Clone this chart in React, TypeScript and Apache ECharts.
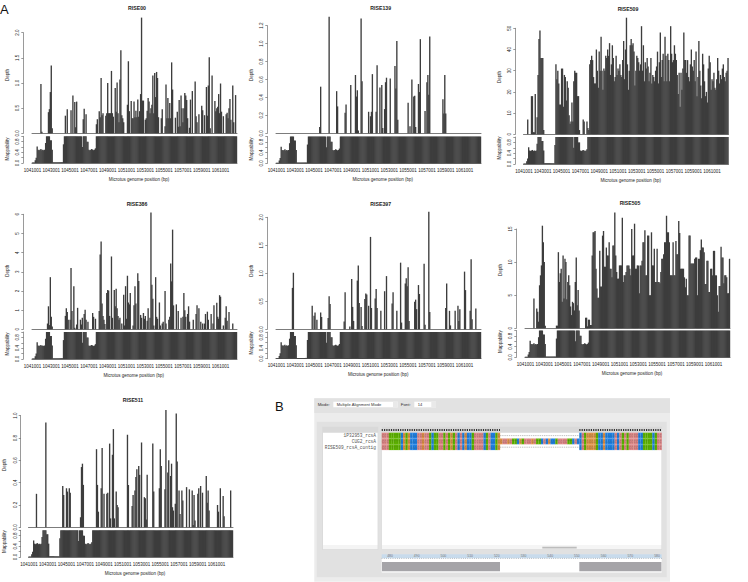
import React, { useEffect, useRef } from "react";
import * as echarts from "echarts";

const BIN_COUNT = 218;
const binLabels = Array.from({ length: BIN_COUNT }, (_, i) => String(1041001 + i * 100));

const mappability = [
  0.02, 0.02, 0.02, 0.1, 0.2, 0.62, 0.5, 0.48, 0.5, 0.52, 0.48, 0.5, 0.48, 0.5, 0.75, 1, 1, 1, 1, 0.85,
  0.85, 0.5, 0.03, 0.03, 0.03, 0.03, 0.03, 0.03, 0.03, 0.03, 0.03, 0.03, 0.03, 0.7, 1, 1, 1, 1, 1, 1,
  1, 1, 1, 1, 1, 1, 1, 1, 1, 1, 1, 1, 1, 0.6, 1, 1, 1, 1, 0.8, 0.8,
  0.5, 0.48, 0.5, 0.52, 0.5, 0.48, 0.5, 0.55, 1, 1, 1, 1, 1, 1, 1, 1, 1, 1, 1, 1,
  ...Array(138).fill(1),
];

const rise00Peaks = [
  [9,.98],[10,.03],[17,.42],[18,.48],[19,.82],[20,1.35],[21,.1],[35,.35],[37,.48],[41,.46],[43,.75],[45,.62],[46,.12],[47,.63],
  [54,.28],[55,.49],[57,.38],[68,.18],[69,.28],[71,.44],[72,.32],[73,1.1],[74,.36],[75,.4],[78,.35],[79,.4],[80,1.0],[81,.4],[82,.4],
  [83,.4],[84,1.24],[85,.4],[86,.33],[88,.9],[89,.43],[90,1.01],[91,.4],[92,.22],[93,1.07],[94,1.65],[95,.36],[96,.3],[97,.22],
  [101,.57],[102,1.43],[103,.44],[105,.64],[106,.3],[107,.3],[108,.63],[109,.32],[110,.45],[111,.32],[112,.67],[113,.33],[114,.44],[115,.78],[116,2.3],
  [117,.65],[118,.65],[120,.27],[121,.3],[122,.45],[123,.7],[124,.63],[125,.4],[126,.5],[127,.57],[128,1.15],[129,.4],[130,1.2],[131,.72],[132,1.22],[133,1.1],[134,.32],
  [137,.3],[138,.48],[141,.14],[142,.97],[143,.3],[144,.7],[145,.3],[146,.6],[147,.3],[148,1.41],[149,.87],[152,.31],[154,.43],[155,.13],[156,.66],[157,.14],
  [158,.75],[159,.5],[160,.22],[161,.5],[162,.8],[163,.75],[164,.66],[165,.3],[167,.11],[168,.67],[170,.84],[173,1.03],[174,.34],[175,.22],[177,.38],
  [180,.55],[181,.46],[183,.36],[185,.92],[186,.35],[187,.95],[188,1.51],[189,.1],[191,1.15],[194,.64],[195,.44],[196,.5],[197,.53],[198,.78],[199,.4],[200,.99],[201,.43],[203,.34],
  [206,.38],[207,.41],[208,.3],[209,.5],[210,.68],[211,.27],[213,.95],[214,.22],[216,.76],
];

const rise139Peaks = [
  [46,.07],[47,.52],[56,1.3],[64,.47],[65,.3],[73,.23],[74,.32],[79,.54],[84,.65],[85,.41],[86,.48],[87,.03],[90,1.28],[91,.58],
  [98,.24],[100,.19],[101,.24],[102,.66],[106,.24],[107,.76],[110,.51],[112,.54],[113,.06],[115,.27],[116,.57],[117,.62],[121,.61],
  [126,.75],[127,.5],[128,1.03],[129,.15],[140,.34],[142,.08],[144,.6],[146,.41],[147,.42],[148,.07],[151,.55],[152,.46],[153,1.05],
  [158,.25],[160,.57],[161,.65],[162,.43],[163,1.08],[177,.38],[178,.22],[179,.65],[180,.22],
];

const rise509Depth = [
  0,0,0,0,7,0,0,0,18,18,1,1,19,0,8,28,45,49,36,36,
  36,2,0,0,0,0,0,0,0,0,0,0,0,0,33,26,30,24,14,14,
  31,31,13,28,27,16,25,22,9,5,6,15,6,25,30,29,29,18,18,2,
  0,0,0,7,6,0,0,6,3,2,33,35,37,35,27,24,24,40,30,22,
  39,30,46,30,21,31,30,37,36,40,37,43,28,33,42,36,25,27,37,28,
  31,30,33,28,27,35,44,26,40,55,33,21,30,42,45,42,43,39,23,30,
  37,36,34,30,33,51,30,42,25,34,31,36,32,25,29,36,24,28,27,25,
  30,32,39,24,34,48,27,35,38,25,46,37,25,38,35,25,51,38,34,35,
  42,38,35,28,19,29,13,29,21,31,48,35,35,29,35,27,25,33,40,32,
  30,35,25,39,18,27,44,30,23,17,38,33,25,18,20,15,31,37,34,21,
  26,25,29,22,21,26,36,30,24,28,26,31,33,27,25,29,30,36,
];

const rise386Peaks = [
  [16,.3],[17,1.2],[18,.22],[19,2.72],[20,.65],[21,.15],[35,.7],[36,1.1],[37,.9],[38,.5],[40,.5],[41,3.2],[42,.95],[44,2.25],[45,.08],[47,.25],[48,1.12],
  [51,.5],[52,.25],[53,.6],[55,.8],[56,1.02],[57,.5],[59,.4],[64,.85],[65,.65],[67,.55],[71,.95],[72,3.9],[73,4.58],[74,1.35],[75,.7],[76,.5],[77,.28],
  [79,1.9],[80,2.05],[81,2.02],[82,.7],[84,3.8],[85,.6],[87,2.05],[88,1.2],[89,2.12],[90,1.1],[91,.7],[92,.5],[93,.6],[95,.3],[97,1.8],[98,.2],[99,2.25],
  [100,.55],[101,2.8],[102,1.4],[103,1.3],[104,1.9],[107,.2],[108,1.25],[109,2.25],[110,1.35],[112,2.93],[113,2.52],[115,.75],[116,.6],[118,.85],[119,.55],[120,.7],
  [122,.45],[123,1.1],[125,.6],[126,6.1],[127,2.32],[128,1.6],[129,.2],[131,2.72],[132,.65],[133,.55],[135,1.4],[136,.2],[138,.3],[139,.4],[141,2.0],[142,.3],
  [145,.5],[146,.65],[147,3.43],[148,2.5],[149,5.2],[150,1.25],[153,1.3],[155,.95],[158,.6],[160,.65],[161,1.9],[162,1.0],[163,.65],[165,.8],[166,1.2],[167,.4],
  [171,.5],[174,.8],[175,1.25],[177,1.1],[179,.4],[181,.3],[183,.3],[184,.8],[186,.92],[187,.5],[190,.8],[192,.3],[193,1.25],[196,1.38],[197,.65],[198,.55],
  [199,1.78],[200,1.7],[203,.2],[205,.6],[206,1.2],[207,.45],[209,.9],[213,.3],
];

const rise397Peaks = [
  [17,.74],[18,1.01],[38,.42],[40,.24],[41,.3],[43,.17],[47,.3],[48,.22],[55,.2],[56,.59],[57,.45],[73,.66],[72,.14],[78,.05],[80,.9],[81,.4],[82,.15],
  [86,.87],[87,1.14],[88,.47],[90,.4],[91,.06],[94,.54],[95,.64],[96,.62],[98,.42],[100,1.65],[101,.38],[105,.55],[106,.72],[107,.38],[111,.33],[115,.68],[117,.95],
  [123,.46],[124,.66],[128,.33],[132,1.19],[133,.12],[137,.82],[138,.91],[139,.77],[140,1.11],[141,.15],[147,.49],[148,.53],[149,.36],[151,.79],[152,.63],
  [157,1.17],[158,.08],[162,2.1],[163,.31],[180,.38],[181,.82],[184,.33],[185,.07],[190,.33],[193,.42],[194,.15],[195,.36],[200,1.03],[201,.7],[206,.33],[207,1.25],[208,.18],[212,.37],
];

const rise505Depth = [
  0,0,0,0,0,0,0,0,0,4.5,0,0,3,2.5,1,6.5,8,9.5,15.5,13,
  10,.4,0,0,0,0,0,0,0,0,0,0,0,.4,.4,11.5,7,8.3,9,4,
  11,4.5,10.5,10,4.4,7,8,6.5,3.3,2,4,3.8,2.7,7,10.7,3.5,5.8,2.7,0,0,
  0,0,0,0,1.6,1.6,.3,1.3,1.3,.5,.5,11,14.5,14.5,14.7,9,6,4.6,4.6,11.7,
  6.3,6.3,14,14.7,9.3,9.3,12.2,11,11,13,9,9,7.7,12.5,12.5,17.5,11,8.5,7.5,7.5,
  9.5,9.5,9.5,16.7,7,8,8,8.5,9.5,9.5,9.5,9,8,15,11,11,15.8,9,9,9.5,
  9.5,5.3,9.5,9.5,10.2,13,13,14.8,8,8,14,14,5,5,14.5,9.5,9.5,12,7,7,
  12,7,7,6.8,8.5,10.5,10.5,11.2,13,13,17,14.5,14.5,13,8,8,8,13,8,8,
  13.2,11.2,11.2,16.2,14.4,9,9,9,9,7.7,6.2,7.5,5,5,14,14,9.8,9.8,9.8,9.8,
  10.5,10.7,10.7,5,10.5,10.5,11.8,13.4,12.2,12.2,11.5,6.7,6.7,10.2,10.2,5.5,5.5,9,9,8,
  11.7,11.7,8,8,5,2.5,6.4,6.4,12.3,10.7,10.7,6.8,8,8,7.7,5.3,5.3,10.5,
];

const rise511Peaks = [
  [8,.3],[18,.94],[36,.37],[37,.29],[40,.35],[41,.32],[43,.35],[44,.31],[55,.09],[56,.54],[57,.57],[58,.38],[72,.7],[73,.38],[74,.14],[77,.35],[78,.71],[80,.3],
  [83,.3],[84,.31],[86,.75],[87,.08],[89,.65],[90,.88],[91,.08],[93,.32],[94,.2],[95,.18],[105,.83],[106,.38],[110,.19],[111,.29],[113,.33],[114,.45],[115,.52],[117,.55],
  [118,.47],[120,.76],[123,.27],[124,.26],[125,.07],[126,.47],[132,.75],[133,.32],[139,.35],[140,.7],[141,.55],[145,.34],[146,1.05],[148,.49],[149,.6],[151,.46],[152,.57],
  [153,.18],[154,.15],[156,.21],[157,1.02],[158,.59],[160,.33],[161,.12],[163,.33],[164,.24],[168,.36],[171,.34],[174,.33],[175,.02],[176,.29],[177,.06],[181,.35],[180,.3],
  [183,.37],[185,.31],[189,.46],[190,.22],[191,.33],[192,.15],[201,.2],[202,.14],[204,.35],[207,.28],[208,.1],[215,.33],
];

const fromPeaks = (peaks: number[][]) => {
  const out: (number | null)[] = Array(BIN_COUNT).fill(null);
  peaks.forEach(([b, v]) => { out[b] = v; });
  return out;
};
const dense = (vals: number[]) => vals.map((v) => (v > 0 ? v : null));

const panelNames = ["RISE00", "RISE139", "RISE509", "RISE386", "RISE397", "RISE505", "RISE511"];
const depthData = [
  fromPeaks(rise00Peaks), fromPeaks(rise139Peaks), dense(rise509Depth), fromPeaks(rise386Peaks),
  fromPeaks(rise397Peaks), dense(rise505Depth), fromPeaks(rise511Peaks),
];
const depthAxisMax = [2, 1.2, 50, 6, 2, 15, 1];
const depthAxisStep = [0.5, 0.2, 10, 1, 0.5, 5, 0.2];
const depthAxisDigits = [1, 1, 0, 0, 1, 0, 1];

const layout = [
  { l: 32, w: 205, dt: 32.7, d0: 133.3, mt: 136.3, m0: 163, off: 8.7, tx: 137, ty: 8, nx: 139, ny: 179, yn: 7, dn: 75, mn: 149 },
  { l: 276, w: 205, dt: 25.7, d0: 133.3, mt: 136.5, m0: 163.3, off: 8.7, tx: 380.7, ty: 8, nx: 382.7, ny: 179.3, yn: 251, dn: 75, mn: 149 },
  { l: 523.5, w: 205, dt: 28.3, d0: 134.3, mt: 137, m0: 164, off: 8.2, tx: 628, ty: 9, nx: 630.7, ny: 180, yn: 499, dn: 77, mn: 148 },
  { l: 32, w: 205, dt: 214.3, d0: 329.3, mt: 332, m0: 359, off: 8.7, tx: 137, ty: 203.7, nx: 133.7, ny: 375.3, yn: 7, dn: 270.7, mn: 344 },
  { l: 276, w: 205, dt: 217.3, d0: 329.3, mt: 332, m0: 358.7, off: 8.7, tx: 380.7, ty: 203.7, nx: 378.3, ny: 374.7, yn: 251, dn: 270.7, mn: 343 },
  { l: 525, w: 205, dt: 229, d0: 328.3, mt: 330.5, m0: 357.3, off: 8.7, tx: 630, ty: 202.7, nx: 632, ny: 373.7, yn: 500, dn: 270, mn: 341.7 },
  { l: 28.5, w: 204.5, dt: 415.7, d0: 527.3, mt: 530.3, m0: 557, off: 7.8, tx: 133, ty: 399.7, nx: 135, ny: 573.3, yn: 4.3, dn: 465, mn: 541.7 },
];

const seqStart = "CCCTTTTTAGTGAAACCGCCTATTCCTCTGTCACAGAATCCCCATCAATG";
const seqMiddle = "GCCGCTTAGTCCCGCTTACAGAATCCCCTTACA";
const seqEnd = "ACTGGGGTAAGAAAACACTCTCCCCAATTTTATCC";
const rowNames = ["1P32953_rcsA", "CUG2_rcsA", "RISE509_rcsA_contig"];
const rulerLabels = ["480", "490", "500", "510", "520", "530", "540", "550", "560", "570", "580"];
const baseColor: Record<string, string> = { A: "#1f7fe0", C: "#d98282", G: "#dc8f45", T: "#5cb000" };

const SANS = "Liberation Sans";
const INK = "#3d3d3d";

function buildPanelB() {
  const g: any[] = [];
  const rect = (x: number, y: number, x2: number, y2: number, fill: string) =>
    g.push({ type: "rect", shape: { x, y, width: x2 - x, height: y2 - y }, style: { fill } });
  const text = (x: number, y: number, t: string, size: number, o: any = {}) =>
    g.push({ type: "text", x, y, style: { text: t, fontSize: size, fontFamily: SANS, fill: "#333", textVerticalAlign: "middle", ...o } });

  rect(314.3, 398.3, 670, 581.7, "#ececec");
  rect(314.3, 398.3, 670, 413, "#e2e2e2");
  rect(316.7, 421.7, 666.7, 577.3, "#e1e1e1");
  rect(322.3, 426.7, 378.3, 550, "#d9d9d9");
  rect(323, 432.7, 377.6, 545, "#ffffff");
  rect(323, 545, 377.6, 549.3, "#f4f4f4");
  rect(381.7, 426.7, 661.7, 550, "#d9d9d9");
  rect(382, 432.7, 661.4, 545, "#ffffff");
  rect(382, 545, 661.4, 549.3, "#f5f5f5");
  rect(542.3, 546.8, 576.7, 548.6, "#bdbdbd");

  text(317.7, 404.5, "Mode:", 4.4);
  rect(333.3, 401.7, 397.7, 407.3, "#ffffff");
  rect(393, 401.7, 397.7, 407.3, "#e9e9e9");
  text(336.7, 404.5, "Multiple Alignment Mode", 4.1);
  text(400.7, 404.5, "Font:", 4.4);
  rect(414.3, 401.7, 436, 407.3, "#ffffff");
  rect(431.3, 401.7, 436, 407.3, "#e9e9e9");
  text(417.7, 404.5, "14", 4.1);

  const rowY = [432.7, 438.5, 444.3];
  const rowH = 5.8;
  const drawSeq = (seq: string, x0: number, x1: number, y: number) => {
    const cw = (x1 - x0) / seq.length;
    seq.split("").forEach((ch, i) => rect(x0 + i * cw, y, x0 + (i + 1) * cw + 0.15, y + rowH, baseColor[ch]));
    g.push({
      type: "text", x: x0, y: y + rowH / 2,
      style: { text: seq, fontSize: cw / 0.602, fontFamily: "DejaVu Sans Mono", fill: "#2d3a2d", opacity: 0.4, textVerticalAlign: "middle" },
    });
  };
  rowY.forEach((y, r) => {
    drawSeq(seqStart, 381.7, 500, y);
    drawSeq(seqEnd, 579.3, 661.7, y);
    if (r === 1) drawSeq(seqMiddle, 500, 579.3, y);
    else g.push({ type: "line", shape: { x1: 500, y1: y + rowH / 2, x2: 579.3, y2: y + rowH / 2 }, style: { stroke: "#999", lineWidth: 0.6, lineDash: [1.4, 0.8] } });
    text(376, y + rowH / 2, rowNames[r], 4.5, { textAlign: "right", fontFamily: "Liberation Mono", fill: "#555" });
  });
  [[381.7, 500], [579.3, 661.7]].forEach(([a, b]) =>
    g.push({ type: "line", shape: { x1: a, y1: 430, x2: b, y2: 430 }, style: { stroke: "#333", lineWidth: 2, lineDash: [1.2, 1.1] } }));

  rect(381.7, 554.3, 661.7, 558.3, "#c8dbec");
  rect(381.7, 558.3, 661.7, 572.5, "#ffffff");
  g.push({ type: "line", shape: { x1: 381.7, y1: 558.4, x2: 661.7, y2: 558.4 }, style: { stroke: "#8a9aa8", lineWidth: 1, lineDash: [0.6, 1.6] } });
  rulerLabels.forEach((t, i) => {
    text(390 + i * 26.7, 556.1, t, 3.4, { textAlign: "center", fill: "#777" });
  });
  rect(382, 562, 500, 571.3, "#a5a4a8");
  rect(579.3, 562, 661.4, 571.3, "#a5a4a8");
  return g;
}

function buildOption() {
  const grid: any[] = [], xAxis: any[] = [], yAxis: any[] = [], series: any[] = [], title: any[] = [];
  const graphic: any[] = [];
  const axisText = { fontSize: 4.5, fontFamily: SANS, color: "#222" };
  const axisLine = { lineStyle: { color: "#555", width: 0.6 } };
  const smallText = (x: number, y: number, t: string, rot: number) =>
    graphic.push({ type: "text", x, y, rotation: rot, style: { text: t, fontSize: 4.5, fontFamily: SANS, fill: "#222", textAlign: "center", textVerticalAlign: "middle" } });

  layout.forEach((p, i) => {
    const a = i * 2, b = a + 1;
    grid.push({ left: p.l, width: p.w, top: p.dt, height: p.d0 - p.dt });
    grid.push({ left: p.l, width: p.w, top: p.mt, height: p.m0 - p.mt });
    xAxis.push({ type: "category", gridIndex: a, data: binLabels, axisLabel: { show: false }, axisTick: { show: false }, axisLine: { lineStyle: { color: "#444", width: 0.7 } } });
    xAxis.push({
      type: "category", gridIndex: b, data: binLabels, axisTick: { show: false }, axisLine: { lineStyle: { color: "#333", width: 0.7 } },
      axisLabel: { ...axisText, interval: 19, margin: 4.6 },
    });
    const digits = depthAxisDigits[i];
    yAxis.push({
      type: "value", gridIndex: a, min: 0, max: depthAxisMax[i], interval: depthAxisStep[i], offset: p.off, splitLine: { show: false },
      axisLine: { show: true, ...axisLine }, axisTick: { show: true, length: 2, ...axisLine },
      axisLabel: { ...axisText, rotate: 90, margin: 3, formatter: (v: number) => v.toFixed(digits) },
    });
    yAxis.push({
      type: "value", gridIndex: b, min: 0, max: 1, interval: 0.2, offset: p.off, splitLine: { show: false },
      axisLine: { show: true, ...axisLine }, axisTick: { show: true, length: 2, ...axisLine },
      axisLabel: { ...axisText, rotate: 90, margin: 3, formatter: (v: number) => (Math.round(v * 10) % 4 === 0 ? v.toFixed(1) : "") },
    });
    series.push({ type: "bar", name: panelNames[i] + " depth", xAxisIndex: a, yAxisIndex: a, data: depthData[i], barWidth: 1.35, clip: false, silent: true, itemStyle: { color: INK } });
    series.push({ type: "bar", name: panelNames[i] + " mappability", xAxisIndex: b, yAxisIndex: b, data: mappability, barWidth: 1.35, clip: false, silent: true, itemStyle: { color: INK } });
    title.push({ text: panelNames[i], left: p.tx, top: p.ty - 3, textAlign: "center", padding: 0, textStyle: { fontSize: 5.2, fontWeight: "bold", fontFamily: SANS, color: "#222", lineHeight: 6 } });
    smallText(p.nx, p.ny, "Microtus genome position (bp)", 0);
    smallText(p.yn, p.dn, "Depth", Math.PI / 2);
    smallText(p.yn, p.mn, "Mappability", Math.PI / 2);
  });

  graphic.push({ type: "text", x: 0, y: 9, style: { text: "A", fontSize: 13, fontFamily: SANS, fill: "#111", textVerticalAlign: "middle" } });
  graphic.push({ type: "text", x: 275, y: 406, style: { text: "B", fontSize: 13, fontFamily: SANS, fill: "#111", textVerticalAlign: "middle" } });
  graphic.push(...buildPanelB());

  return { animation: false, backgroundColor: "#ffffff", title, grid, xAxis, yAxis, series, graphic: { elements: graphic } };
}

export default function App() {
  const ref = useRef<HTMLDivElement>(null);
  useEffect(() => {
    const chart = echarts.init(ref.current!, undefined, { renderer: "svg" });
    chart.setOption(buildOption());
    return () => chart.dispose();
  }, []);
  return <div ref={ref} style={{ position: "absolute", left: 0, top: 0, width: 748, height: 582 }} />;
}
